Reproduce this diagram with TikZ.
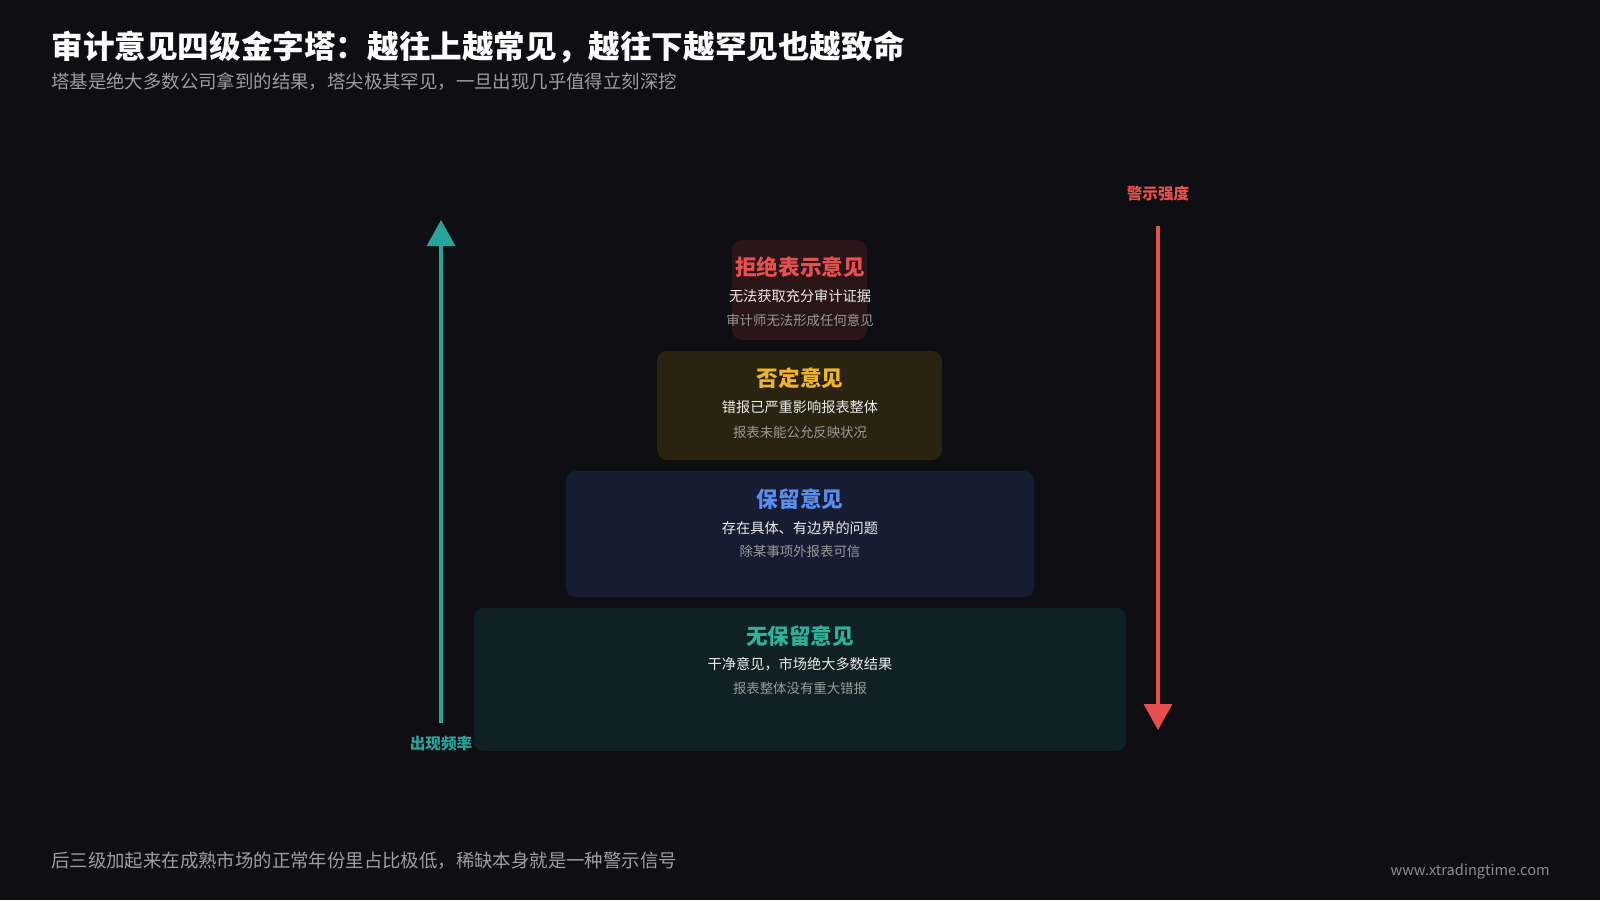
\documentclass[tikz,border=0pt]{standalone}
\usepackage{fontspec}
\setmainfont{Noto Sans CJK SC}
\usetikzlibrary{arrows.meta}
\definecolor{bg}{HTML}{0E0E13}
\definecolor{teal}{HTML}{26A69A}
\definecolor{redc}{HTML}{E85050}
\definecolor{gold}{HTML}{F0B429}
\definecolor{bluec}{HTML}{5B8DEF}
\definecolor{greenc}{HTML}{2EB39A}
\definecolor{fa}{HTML}{2A1519}
\definecolor{fb}{HTML}{29230F}
\definecolor{fc}{HTML}{161D33}
\definecolor{fd}{HTML}{0F2124}
\tikzset{
 box/.style={rounded corners=5pt,draw=none},
 ttl/.style={font=\fontsize{10.8}{12}\selectfont\bfseries},
 l1/.style={text=white!92!black,font=\fontsize{7.1}{8}\selectfont},
 l2/.style={text=white!60!black,font=\fontsize{6.7}{8}\selectfont},
}
\begin{document}
\begin{tikzpicture}[x=0.5pt,y=-0.5pt]
\fill[bg] (0,0) rectangle (1600,900);
\useasboundingbox (0,0) rectangle (1600,900);
\node[anchor=west,inner sep=0pt,text=white,font=\fontsize{15.8}{18}\selectfont\bfseries] (t) at (51,47) {审计意见四级金字塔：越往上越常见，越往下越罕见也越致命};
\node[anchor=west,inner sep=0pt,text=white!62!black,font=\fontsize{9.2}{10}\selectfont] (s) at (51,82) {塔基是绝大多数公司拿到的结果，塔尖极其罕见，一旦出现几乎值得立刻深挖};
\fill[box,fill=fa] (732,240) rectangle (867,340);
\fill[box,fill=fb] (657,351) rectangle (942,460);
\fill[box,fill=fc] (566,471) rectangle (1034,597);
\fill[box,fill=fd] (474,608) rectangle (1126,751);
\node[ttl,text=redc] (a1) at (800,267) {拒绝表示意见};
\node[l1] (a2) at (800,296) {无法获取充分审计证据};
\node[l2] (a3) at (800,320) {审计师无法形成任何意见};
\node[ttl,text=gold] (b1) at (800,378) {否定意见};
\node[l1] (b2) at (800,407) {错报已严重影响报表整体};
\node[l2] (b3) at (800,432) {报表未能公允反映状况};
\node[ttl,text=bluec] (c1) at (800,499) {保留意见};
\node[l1] (c2) at (800,528) {存在具体、有边界的问题};
\node[l2] (c3) at (800,551) {除某事项外报表可信};
\node[ttl,text=greenc] (d1) at (800,636) {无保留意见};
\node[l1] (d2) at (800,664) {干净意见，市场绝大多数结果};
\node[l2] (d3) at (800,688) {报表整体没有重大错报};
\coordinate (lb) at (441,723); \coordinate (lt) at (441,220);
\draw[teal,line width=1.6pt,-{Triangle[length=13pt,width=14pt]}] (lb) -- (lt);
\node[text=teal,font=\fontsize{7.8}{9}\selectfont\bfseries] (fl) at (441,744) {出现频率};
\coordinate (rt) at (1158,226); \coordinate (rb) at (1158,730);
\draw[redc,line width=1.6pt,-{Triangle[length=13pt,width=14pt]}] (rt) -- (rb);
\node[text=redc,font=\fontsize{7.8}{9}\selectfont\bfseries] (wl) at (1158,194) {警示强度};
\node[anchor=west,inner sep=0pt,text=white!62!black,font=\fontsize{9.2}{10}\selectfont] (f) at (51,861) {后三级加起来在成熟市场的正常年份里占比极低，稀缺本身就是一种警示信号};
\node[anchor=east,inner sep=0pt,text=white!55!black,font=\fontsize{7.3}{9}\selectfont] (w) at (1550,871) {www.xtradingtime.com};
\end{tikzpicture}
\end{document}
